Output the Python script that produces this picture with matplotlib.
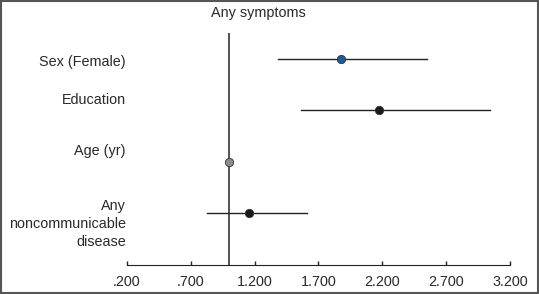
import matplotlib.pyplot as plt
from matplotlib.patches import Rectangle

plt.rcParams['font.family'] = ['Liberation Sans', 'DejaVu Sans']

labels = ["Sex (Female)", "Education", "Age (yr)", "Any\nnoncommunicable\ndisease"]
estimate = [1.876, 2.176, 1.0, 1.158]
lower = [1.382, 1.563, 1.0, 0.829]
upper = [2.547, 3.040, 1.0, 1.612]
point_colors = ["#1f5b99", "#1a1a1a", "#8c8c8c", "#1a1a1a"]
label_offset = [0.06, -0.21, -0.21, 0.21]
ticks = [0.2, 0.7, 1.2, 1.7, 2.2, 2.7, 3.2]
tick_labels = [".200", ".700", "1.200", "1.700", "2.200", "2.700", "3.200"]

fig = plt.figure(figsize=(5.39, 2.94), dpi=100)
ax = fig.add_axes([0.2356, 0.0986, 0.7106, 0.7891])

ax.axvline(1.0, color="#222222", lw=1.1, zorder=1)
for i in range(len(labels)):
    if upper[i] > lower[i]:
        ax.plot([lower[i], upper[i]], [i, i], color="#222222", lw=1.0, zorder=2)
    ax.plot(estimate[i], i, "o", ms=6, mfc=point_colors[i], mec="#333333",
            mew=0.6, zorder=3)
    ax.text(0.19, i + label_offset[i], labels[i], ha="right", va="center",
            fontsize=10.4, color="#2a2a2a", linespacing=1.35, clip_on=False)

ax.set_xlim(0.2, 3.2)
ax.set_ylim(4.015, -0.507)
ax.set_xticks(ticks)
ax.set_xticklabels(tick_labels, fontsize=10.4, color="#2a2a2a")
ax.tick_params(axis="x", direction="in", length=3, width=1, color="#222222", pad=7)
ax.set_yticks([])
for s in ["top", "right", "left"]:
    ax.spines[s].set_visible(False)
ax.spines["bottom"].set_color("#222222")

fig.text(258 / 539, 1 - 13 / 294, "Any symptoms", ha="center", va="center",
         fontsize=10.4, color="#2a2a2a")
fig.patches.append(Rectangle((0.002, 0.004), 0.996, 0.992, transform=fig.transFigure,
                             fill=False, edgecolor="#555555", lw=1.5))

fig.savefig("out.png", dpi=100)
